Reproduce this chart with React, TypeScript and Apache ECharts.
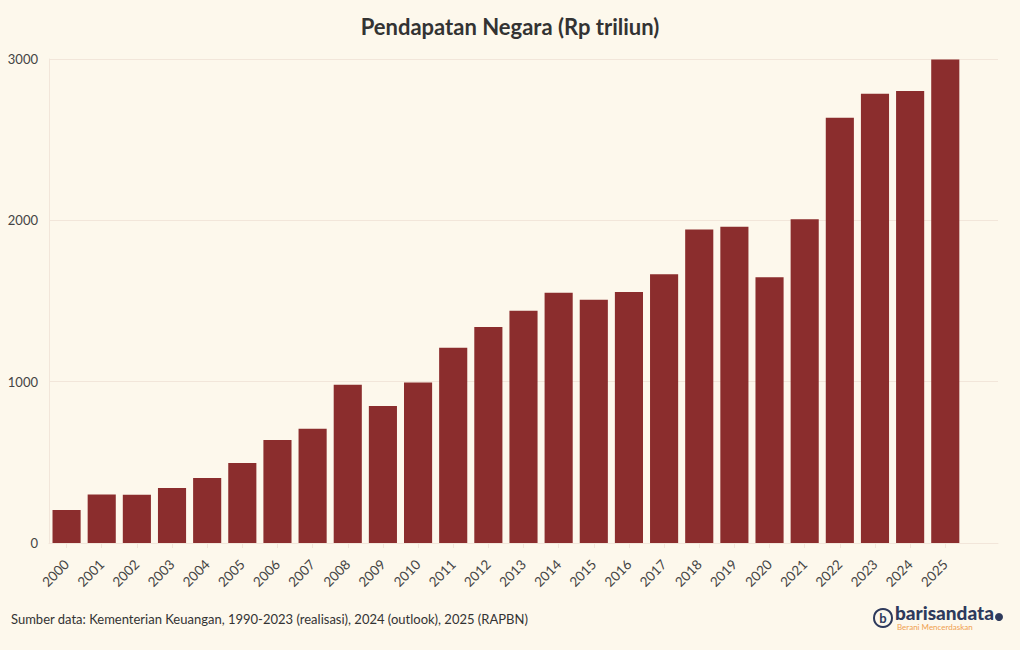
import React, { useEffect, useRef } from "react";
import * as echarts from "echarts";

const years = ["2000","2001","2002","2003","2004","2005","2006","2007","2008","2009","2010","2011","2012","2013","2014","2015","2016","2017","2018","2019","2020","2021","2022","2023","2024","2025"];
const revenue = [205.3, 301.1, 298.6, 341.4, 403.4, 495.2, 638.0, 707.8, 981.6, 848.8, 995.3, 1210.6, 1338.1, 1438.9, 1550.5, 1508.0, 1555.9, 1666.4, 1943.7, 1960.6, 1647.8, 2006.3, 2635.8, 2783.9, 2802.3, 2996.9];
const yTicks = [0, 1000, 2000, 3000];

const FONT = "Lato, 'Noto Sans', sans-serif";

export default function App() {
  const ref = useRef<HTMLDivElement>(null);
  useEffect(() => {
    if (!ref.current) return;
    const chart = echarts.init(ref.current, null, { renderer: "svg" });
    const cats = [...years, ""];
    const vals: (number | string)[] = [...revenue, "-"];
    chart.setOption({
      animation: false,
      backgroundColor: "#fdf8ec",
      textStyle: { fontFamily: FONT },
      title: {
        text: "Pendapatan Negara (Rp triliun)",
        left: "center",
        top: 10,
        textStyle: { fontFamily: FONT, fontSize: 22, fontWeight: "bold", color: "#333333" },
      },
      grid: { left: 49, right: 22, top: 59, bottom: 107, containLabel: false },
      xAxis: {
        type: "category",
        data: cats,
        axisLine: { show: true, lineStyle: { color: "#f2e6da" } },
        axisTick: {
          show: true,
          alignWithLabel: true,
          length: 5,
          interval: (index: number) => index < years.length,
          lineStyle: { color: "#f2e6da" },
        },
        axisLabel: { rotate: 45, fontSize: 13.5, color: "#444444", margin: 19, interval: 0, fontFamily: FONT },
        splitLine: { show: false },
      },
      yAxis: {
        type: "value",
        min: yTicks[0],
        max: yTicks[yTicks.length - 1],
        interval: 1000,
        axisLine: { show: true, lineStyle: { color: "#f2e6da" } },
        axisTick: { show: false },
        axisLabel: { fontSize: 13, color: "#444444", margin: 11, fontFamily: FONT, formatter: (v: number) => String(v) },
        splitLine: { show: true, lineStyle: { color: "#f2e6da" } },
      },
      series: [
        {
          type: "bar",
          data: vals,
          barCategoryGap: "20%",
          itemStyle: { color: "#8b2d2d" },
        },
      ],
      graphic: [
        {
          type: "text",
          left: 11,
          top: 612,
          style: {
            text: "Sumber data: Kementerian Keuangan, 1990-2023 (realisasi), 2024 (outlook), 2025 (RAPBN)",
            fontSize: 13,
            fill: "#333333",
            fontFamily: FONT,
          },
        },
        {
          type: "circle",
          shape: { cx: 883, cy: 618, r: 9 },
          style: { fill: "none", stroke: "#2e3a5c", lineWidth: 2 },
        },
        {
          type: "text",
          x: 883,
          y: 618,
          style: { text: "b", fontSize: 13, fontWeight: "bold", fill: "#2e3a5c", align: "center", verticalAlign: "middle", fontFamily: FONT },
        },
        {
          type: "text",
          x: 895,
          y: 612,
          style: { text: "barisandata", fontSize: 19, fontWeight: 900, fill: "#2e3a5c", verticalAlign: "middle", fontFamily: FONT },
        },
        {
          type: "text",
          x: 897,
          y: 627,
          style: { text: "Berani Mencerdaskan", fontSize: 8, fill: "#f0a050", verticalAlign: "middle", fontFamily: FONT },
        },
        {
          type: "circle",
          shape: { cx: 999, cy: 617, r: 4 },
          style: { fill: "#2e3a5c" },
        },
      ],
    });
    return () => chart.dispose();
  }, []);
  return <div ref={ref} style={{ width: 1020, height: 650, position: "absolute", left: 0, top: 0 }} />;
}
